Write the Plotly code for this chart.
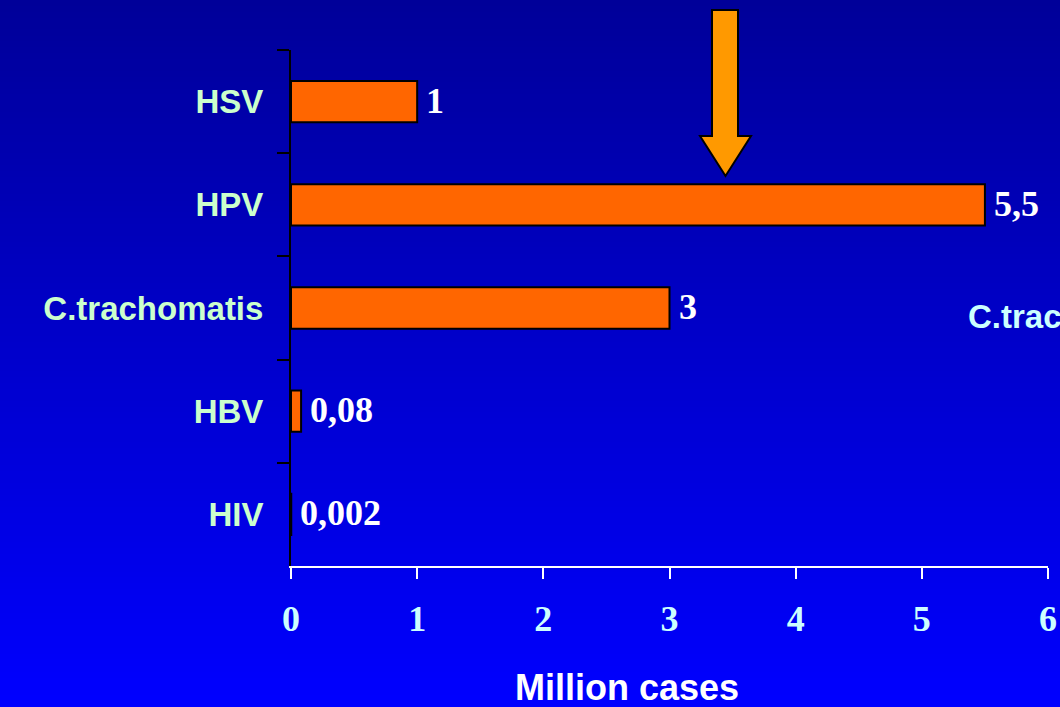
import plotly.graph_objects as go

# ---- data ----
categories = ["HSV", "HPV", "C.trachomatis", "HBV", "HIV"]
cases_million = [1, 5.5, 3, 0.08, 0.002]
value_labels = ["1", "5,5", "3", "0,08", "0,002"]
x_ticks = [0, 1, 2, 3, 4, 5, 6]
x_title = "Million cases"

W, H = 1060, 707
ML, MR, MT, MB = 291, 12, 50, 141
PW, PH = W - ML - MR, H - MT - MB


def px_x(p):
    return (p - ML) / PW


def px_y(p):
    return (H - MB - p) / PH


fig = go.Figure()
fig.add_trace(go.Bar(
    y=categories, x=cases_million, orientation="h",
    marker=dict(color="#ff6600", line=dict(color="black", width=2)),
    width=0.4, showlegend=False, hoverinfo="skip",
))

shapes = []
# vertical background gradient (dark navy -> bright blue)
n = 120
top_c, bot_c = (0, 0, 153), (0, 0, 255)
for i in range(n):
    t = i / (n - 1)
    c = tuple(round(top_c[k] + (bot_c[k] - top_c[k]) * t) for k in range(3))
    y0 = H * i / n
    y1 = H * (i + 1) / n + 1
    shapes.append(dict(
        type="rect", xref="paper", yref="paper", layer="below",
        x0=px_x(-2), x1=px_x(W + 2), y0=px_y(y1), y1=px_y(y0),
        fillcolor="rgb(%d,%d,%d)" % c, line=dict(width=0),
    ))

# decorative arrow
pts = [(712, 10), (738, 10), (738, 136), (751, 136), (725.5, 176),
       (700, 136), (712, 136)]
path = "M " + " L ".join("%f,%f" % (px_x(a), px_y(b)) for a, b in pts) + " Z"
shapes.append(dict(type="path", xref="paper", yref="paper", path=path,
                   fillcolor="#ff9900", line=dict(color="black", width=2),
                   layer="above"))

annotations = []
for cat, v, lab in zip(categories, cases_million, value_labels):
    annotations.append(dict(
        x=v, y=cat, xref="x", yref="y", text=lab, showarrow=False,
        xanchor="left", yanchor="middle", xshift=7, yshift=1,
        font=dict(family="Liberation Serif", size=36, color="white", weight="bold"),
    ))
annotations.append(dict(
    x=px_x(627), y=px_y(687), xref="paper", yref="paper", text=x_title,
    showarrow=False, xanchor="center", yanchor="middle",
    font=dict(family="Liberation Sans", size=36, color="white", weight="bold"),
))
annotations.append(dict(
    x=px_x(966), y=px_y(316), xref="paper", yref="paper", text="C.trachomatis",
    showarrow=False, xanchor="left", yanchor="middle",
    font=dict(family="Liberation Sans", size=33, color="#ccffff", weight="bold"),
))

fig.update_layout(
    width=W, height=H, autosize=False,
    margin=dict(l=ML, r=MR, t=MT, b=MB, autoexpand=False),
    paper_bgcolor="#000099", plot_bgcolor="rgba(0,0,0,0)",
    shapes=shapes, annotations=annotations,
    xaxis=dict(
        range=[0, 6], tickvals=x_ticks, ticktext=[str(t) for t in x_ticks],
        automargin=False,
        showgrid=False, zeroline=False,
        showline=True, linecolor="white", linewidth=2,
        ticks="outside", ticklen=11, tickwidth=2, tickcolor="white",
        ticklabelstandoff=9,
        tickfont=dict(family="Liberation Serif", size=36, color="#ccffff", weight="bold"),
    ),
    yaxis=dict(
        categoryorder="array", categoryarray=categories, autorange="reversed",
        automargin=False,
        showgrid=False, zeroline=False,
        showline=True, linecolor="black", linewidth=2,
        ticks="outside", ticklen=12, tickwidth=2, tickcolor="black",
        tickson="boundaries", ticklabelstandoff=19,
        tickfont=dict(family="Liberation Sans", size=33, color="#ccffcc", weight="bold"),
    ),
)

fig.write_html(
    "out.html",
    config={"displayModeBar": False, "responsive": False},
    post_script="document.body.style.margin='0';document.body.style.overflow='hidden';",
)
